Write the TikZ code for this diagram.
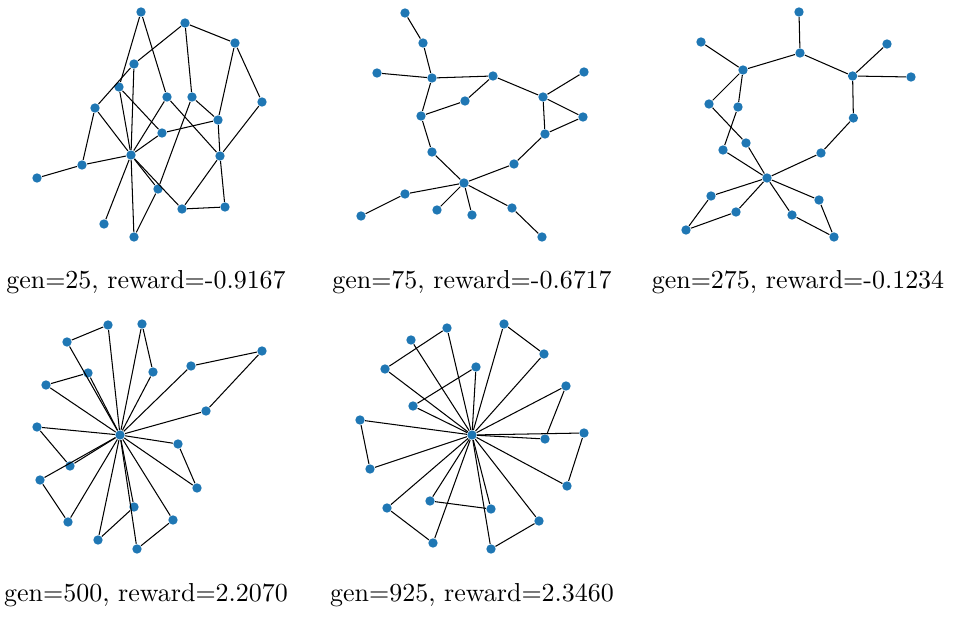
\documentclass[tikz,border=0pt]{standalone}
\usepackage{tikz}
\definecolor{nodeblue}{HTML}{1F77B4}
\begin{document}
\begin{tikzpicture}[x=0.385pt, y=-0.385pt,
  vtx/.style={shape=circle, fill=nodeblue, draw=none, inner sep=0pt, minimum size=3.6pt},
  lnk/.style={-, line width=0.4pt, draw=black},
  title/.style={anchor=base, inner sep=0pt}]
\useasboundingbox (0,0) rectangle (953,619);
% gen=25
\node[vtx] (A1) at (141,12) {};
\node[vtx] (A2) at (185,23) {};
\node[vtx] (A3) at (235,43) {};
\node[vtx] (A4) at (134,64) {};
\node[vtx] (A5) at (119,87) {};
\node[vtx] (A6) at (167,97) {};
\node[vtx] (A7) at (192,97) {};
\node[vtx] (A8) at (262,102) {};
\node[vtx] (A9) at (95,108) {};
\node[vtx] (A10) at (218,120) {};
\node[vtx] (A11) at (162,133) {};
\node[vtx] (A12) at (131,155) {};
\node[vtx] (A13) at (220,156) {};
\node[vtx] (A14) at (82,165) {};
\node[vtx] (A15) at (37,178) {};
\node[vtx] (A16) at (158,189) {};
\node[vtx] (A17) at (182,209) {};
\node[vtx] (A18) at (225,207) {};
\node[vtx] (A19) at (104,224) {};
\node[vtx] (A20) at (134,237) {};
\path[lnk] (A1) edge (A6) edge (A5);
\path[lnk] (A2) edge (A3) edge (A7) edge (A4);
\path[lnk] (A4) edge (A9) edge (A12);
\path[lnk] (A3) edge (A8) edge (A10);
\path[lnk] (A8) edge (A13);
\path[lnk] (A9) edge (A12) edge (A14);
\path[lnk] (A14) edge (A15) edge (A12);
\path[lnk] (A5) edge (A12) edge (A11);
\path[lnk] (A11) edge (A10) edge (A12);
\path[lnk] (A6) edge (A12) edge (A13);
\path[lnk] (A7) edge (A10) edge (A16);
\path[lnk] (A10) edge (A13);
\path[lnk] (A13) edge (A18) edge (A17);
\path[lnk] (A17) edge (A18);
\path[lnk] (A12) edge (A17) edge (A16) edge (A20) edge (A19);
\path[lnk] (A16) edge (A20);
\node[title] (capA) at (146,289) {gen=25, reward=-0.9167};
% gen=75
\node[vtx] (B1) at (405,13) {};
\node[vtx] (B2) at (423,43) {};
\node[vtx] (B3) at (377,73) {};
\node[vtx] (B4) at (432,78) {};
\node[vtx] (B5) at (493,76) {};
\node[vtx] (B6) at (584,72) {};
\node[vtx] (B7) at (543,97) {};
\node[vtx] (B8) at (465,101) {};
\node[vtx] (B9) at (421,116) {};
\node[vtx] (B10) at (583,117) {};
\node[vtx] (B11) at (545,134) {};
\node[vtx] (B12) at (432,152) {};
\node[vtx] (B13) at (514,164) {};
\node[vtx] (B14) at (464,183) {};
\node[vtx] (B15) at (405,194) {};
\node[vtx] (B16) at (361,216) {};
\node[vtx] (B17) at (437,210) {};
\node[vtx] (B18) at (472,215) {};
\node[vtx] (B19) at (512,208) {};
\node[vtx] (B20) at (542,237) {};
\path[lnk] (B1) edge (B2);
\path[lnk] (B4) edge (B2) edge (B3) edge (B5) edge (B9);
\path[lnk] (B8) edge (B9) edge (B5);
\path[lnk] (B7) edge (B5) edge (B6) edge (B10) edge (B11);
\path[lnk] (B11) edge (B10) edge (B13);
\path[lnk] (B12) edge (B9) edge (B14);
\path[lnk] (B14) edge (B13) edge (B15) edge (B17) edge (B18) edge (B19);
\path[lnk] (B15) edge (B16);
\path[lnk] (B19) edge (B20);
\node[title] (capB) at (472,289) {gen=75, reward=-0.6717};
% gen=275
\node[vtx] (C1) at (799,12) {};
\node[vtx] (C2) at (701,42) {};
\node[vtx] (C3) at (887,44) {};
\node[vtx] (C4) at (800,53) {};
\node[vtx] (C5) at (743,70) {};
\node[vtx] (C6) at (852.6,76) {};
\node[vtx] (C7) at (911,77) {};
\node[vtx] (C8) at (709,104) {};
\node[vtx] (C9) at (738,107) {};
\node[vtx] (C10) at (853.4,118) {};
\node[vtx] (C11) at (746,143) {};
\node[vtx] (C12) at (723,150) {};
\node[vtx] (C13) at (821,153) {};
\node[vtx] (C14) at (767,178) {};
\node[vtx] (C15) at (711,196) {};
\node[vtx] (C16) at (819,200) {};
\node[vtx] (C17) at (736,212) {};
\node[vtx] (C18) at (792,215) {};
\node[vtx] (C19) at (686,230) {};
\node[vtx] (C20) at (834,237) {};
\path[lnk] (C4) edge (C1) edge (C5) edge (C6);
\path[lnk] (C5) edge (C2) edge (C8) edge (C9);
\path[lnk] (C6) edge (C3) edge (C7) edge (C10);
\path[lnk] (C13) edge (C10) edge (C14);
\path[lnk] (C11) edge (C8) edge (C14);
\path[lnk] (C12) edge (C9) edge (C14);
\path[lnk] (C14) edge (C15) edge (C17) edge (C16) edge (C18);
\path[lnk] (C19) edge (C15) edge (C17);
\path[lnk] (C20) edge (C16) edge (C18);
\node[title] (capC) at (798,289) {gen=275, reward=-0.1234};
% gen=500
\node[vtx] (D1) at (108,325) {};
\node[vtx] (D2) at (142,324) {};
\node[vtx] (D3) at (67,342) {};
\node[vtx] (D4) at (262,351) {};
\node[vtx] (D5) at (191,366) {};
\node[vtx] (D6) at (88,373) {};
\node[vtx] (D7) at (153,372) {};
\node[vtx] (D8) at (46,385) {};
\node[vtx] (D9) at (206,411) {};
\node[vtx] (D10) at (37,427) {};
\node[vtx] (D11) at (120,435) {};
\node[vtx] (D12) at (178,444) {};
\node[vtx] (D13) at (70,466) {};
\node[vtx] (D14) at (40,480) {};
\node[vtx] (D15) at (197,488) {};
\node[vtx] (D16) at (134,507) {};
\node[vtx] (D17) at (173,520) {};
\node[vtx] (D18) at (68,522) {};
\node[vtx] (D19) at (98,540) {};
\node[vtx] (D20) at (137,549) {};
\path[lnk] (D1) edge (D3);
\path[lnk] (D6) edge (D8);
\path[lnk] (D2) edge (D7);
\path[lnk] (D4) edge (D5) edge (D9);
\path[lnk] (D10) edge (D13);
\path[lnk] (D14) edge (D18);
\path[lnk] (D12) edge (D15);
\path[lnk] (D16) edge (D19);
\path[lnk] (D17) edge (D20);
\path[lnk] (D11) edge (D1) edge (D2) edge (D3) edge (D5) edge (D6) edge (D7) edge (D8) edge (D9)
  edge (D10) edge (D12) edge (D13) edge (D14) edge (D15) edge (D16) edge (D17) edge (D18) edge (D19) edge (D20);
\node[title] (capD) at (146,601) {gen=500, reward=2.2070};
% gen=925
\node[vtx] (E1) at (504,324) {};
\node[vtx] (E2) at (447,328) {};
\node[vtx] (E3) at (411,340) {};
\node[vtx] (E4) at (544,354) {};
\node[vtx] (E5) at (385,369) {};
\node[vtx] (E6) at (476,367) {};
\node[vtx] (E7) at (566,386) {};
\node[vtx] (E8) at (413,406) {};
\node[vtx] (E9) at (360,420) {};
\node[vtx] (E10) at (472,435) {};
\node[vtx] (E11) at (584,433) {};
\node[vtx] (E12) at (545,439) {};
\node[vtx] (E13) at (370,469) {};
\node[vtx] (E14) at (567,486) {};
\node[vtx] (E15) at (387,508) {};
\node[vtx] (E16) at (430,501) {};
\node[vtx] (E17) at (491,509) {};
\node[vtx] (E18) at (539,521) {};
\node[vtx] (E19) at (433,543) {};
\node[vtx] (E20) at (491,549) {};
\path[lnk] (E1) edge (E4);
\path[lnk] (E2) edge (E5);
\path[lnk] (E6) edge (E8);
\path[lnk] (E7) edge (E12);
\path[lnk] (E11) edge (E14);
\path[lnk] (E9) edge (E13);
\path[lnk] (E15) edge (E19);
\path[lnk] (E16) edge (E17);
\path[lnk] (E18) edge (E20);
\path[lnk] (E10) edge (E1) edge (E2) edge (E3) edge (E4) edge (E5) edge (E6) edge (E7) edge (E8) edge (E9)
  edge (E11) edge (E12) edge (E13) edge (E14) edge (E15) edge (E16) edge (E17) edge (E18) edge (E19) edge (E20);
\node[title] (capE) at (472,601) {gen=925, reward=2.3460};
\end{tikzpicture}
\end{document}
